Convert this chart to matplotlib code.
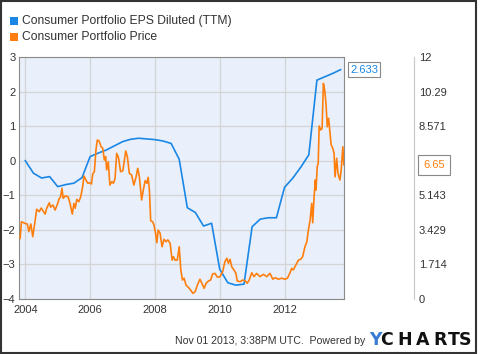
import matplotlib
matplotlib.use('Agg')
import matplotlib.pyplot as plt
import matplotlib.transforms as mtrans
from matplotlib.patches import Rectangle

plt.rcParams['font.family'] = ['Liberation Sans', 'DejaVu Sans']

# EPS diluted (TTM), quarterly, decimal years
eps_years = [2004.0, 2004.25, 2004.5, 2004.75, 2005.0, 2005.25, 2005.5, 2005.75,
             2006.0, 2006.25, 2006.5, 2006.75, 2007.0, 2007.25, 2007.5, 2007.75,
             2008.0, 2008.25, 2008.5, 2008.75, 2009.0, 2009.25, 2009.5, 2009.75,
             2010.0, 2010.25, 2010.5, 2010.75, 2011.0, 2011.25, 2011.5, 2011.75,
             2012.0, 2012.25, 2012.5, 2012.75, 2013.0, 2013.25, 2013.5, 2013.73]
eps_vals = [0.0, -0.36, -0.50, -0.46, -0.75, -0.69, -0.65, -0.49,
            0.12, 0.22, 0.31, 0.43, 0.55, 0.62, 0.65, 0.63,
            0.61, 0.57, 0.50, 0.04, -1.36, -1.50, -1.89, -1.81,
            -3.14, -3.53, -3.60, -3.57, -1.91, -1.69, -1.65, -1.65,
            -0.77, -0.51, -0.19, 0.17, 2.33, 2.43, 2.53, 2.633]

# share price
price_years = [2003.84, 2003.88, 2003.99, 2004.06, 2004.11, 2004.17, 2004.23, 2004.29, 2004.35, 2004.43,
               2004.49, 2004.56, 2004.61, 2004.66, 2004.74, 2004.78, 2004.85, 2004.92, 2004.99, 2005.05,
               2005.09, 2005.13, 2005.17, 2005.23, 2005.32, 2005.38, 2005.45, 2005.50, 2005.54, 2005.59,
               2005.65, 2005.71, 2005.77, 2005.81, 2005.87, 2005.93, 2005.98, 2006.04, 2006.08, 2006.13,
               2006.18, 2006.22, 2006.27, 2006.34, 2006.39, 2006.44, 2006.48, 2006.51, 2006.56, 2006.61,
               2006.67, 2006.72, 2006.77, 2006.82, 2006.88, 2006.94, 2007.01, 2007.05, 2007.10, 2007.15,
               2007.21, 2007.28, 2007.35, 2007.42, 2007.47, 2007.52, 2007.59, 2007.64, 2007.70, 2007.75,
               2007.79, 2007.83, 2007.87, 2007.93, 2007.97, 2008.01, 2008.06, 2008.10, 2008.16, 2008.22,
               2008.28, 2008.34, 2008.40, 2008.47, 2008.53, 2008.57, 2008.62, 2008.69, 2008.75, 2008.80,
               2008.85, 2008.90, 2008.96, 2009.03, 2009.10, 2009.17, 2009.24, 2009.31, 2009.39, 2009.45,
               2009.52, 2009.58, 2009.65, 2009.72, 2009.78, 2009.85, 2009.93, 2010.01, 2010.09, 2010.16,
               2010.22, 2010.27, 2010.32, 2010.37, 2010.44, 2010.50, 2010.54, 2010.63, 2010.71, 2010.78,
               2010.85, 2010.91, 2010.99, 2011.06, 2011.14, 2011.24, 2011.35, 2011.45, 2011.55, 2011.64,
               2011.71, 2011.81, 2011.91, 2012.02, 2012.09, 2012.17, 2012.22, 2012.27, 2012.35, 2012.43,
               2012.50, 2012.56, 2012.63, 2012.69, 2012.73, 2012.79, 2012.84, 2012.87, 2012.91, 2012.95,
               2012.97, 2013.01, 2013.04, 2013.07, 2013.12, 2013.16, 2013.20, 2013.24, 2013.28, 2013.32,
               2013.36, 2013.40, 2013.44, 2013.49, 2013.53, 2013.56, 2013.61, 2013.65, 2013.71, 2013.75,
               2013.80, 2013.835]
price_vals = [3.01, 3.83, 3.75, 3.72, 3.34, 3.72, 3.09, 3.75, 4.45, 4.33,
              4.51, 4.33, 4.21, 4.50, 4.77, 4.55, 4.66, 4.41, 4.70, 4.99,
              5.07, 5.49, 4.99, 5.11, 5.07, 4.74, 4.21, 4.74, 4.50, 4.94,
              4.82, 5.07, 5.57, 6.10, 5.90, 5.74, 5.77, 5.70, 6.20, 6.31,
              7.39, 7.88, 7.85, 7.55, 7.47, 6.89, 7.06, 6.40, 6.81, 5.65,
              5.82, 5.74, 5.98, 7.22, 6.98, 6.31, 6.36, 6.81, 7.34, 7.06,
              6.23, 6.15, 5.65, 6.06, 6.48, 6.06, 4.91, 5.40, 5.87, 5.74,
              6.03, 5.40, 3.88, 3.83, 3.67, 3.34, 2.79, 3.42, 3.26, 2.59,
              2.96, 2.84, 2.93, 2.76, 1.93, 2.10, 1.93, 1.93, 2.59, 1.44,
              0.94, 1.03, 0.69, 0.58, 0.45, 0.28, 0.36, 0.69, 0.98, 0.78,
              0.53, 0.78, 0.89, 0.94, 1.24, 1.27, 1.08, 1.11, 1.35, 1.85,
              2.02, 1.77, 1.97, 1.60, 1.44, 1.27, 0.89, 0.86, 0.94, 0.91,
              0.78, 0.94, 1.30, 1.11, 1.27, 1.11, 1.22, 1.11, 1.27, 0.98,
              1.06, 0.98, 1.03, 0.98, 1.03, 1.30, 1.52, 1.44, 1.69, 1.93,
              1.97, 2.10, 2.59, 2.84, 3.34, 3.92, 4.74, 3.78, 4.99, 5.90,
              5.40, 6.56, 6.73, 8.58, 8.38, 8.46, 10.69, 10.36, 9.70, 8.54,
              8.96, 8.29, 7.64, 7.47, 7.22, 6.06, 6.98, 6.23, 5.90, 6.40,
              7.55, 6.65]

eps_ticks = [-4, -3, -2, -1, 0, 1, 2, 3]
price_ticks = [0, 12 / 7, 24 / 7, 36 / 7, 48 / 7, 60 / 7, 72 / 7, 12]
price_labels = ['0', '1.714', '3.429', '5.143', '6.857', '8.571', '10.29', '12']
year_ticks = [2004, 2006, 2008, 2010, 2012]

blue = '#1a87e6'
orange = '#ff7f0e'
txt = '#333333'
px = 72 / 100  # points per pixel

fig = plt.figure(figsize=(4.8, 3.54), dpi=100)
ax = fig.add_axes([0.0406, 0.1554, 0.676, 0.6836])
ax.set_facecolor('#e9f0fb')
ax.plot(eps_years, eps_vals, color=blue, lw=1.2, zorder=3)
ax.set_xlim(2003.82, 2013.835)
ax.set_ylim(-4, 3)
ax.set_yticks(eps_ticks)
ax.set_xticks(year_ticks)
ax.set_xticklabels([str(y) for y in year_ticks])
ax.yaxis.tick_right()
ax.grid(True, color='#d4d4d4', lw=0.9)
ax.set_axisbelow(True)
ax.tick_params(axis='both', length=0, labelsize=8, colors=txt)
ax.tick_params(axis='y', pad=3)
ax.tick_params(axis='x', pad=4)
for s in ax.spines.values():
    s.set_color('#8a8a8a')

ax2 = ax.twinx()
ax2.plot(price_years, price_vals, color=orange, lw=1.2, zorder=3)
ax2.set_ylim(0, 12)
ax2.set_yticks(price_ticks)
ax2.set_yticklabels(price_labels)
ax2.spines['right'].set_position(('outward', 70 * px))
ax2.spines['right'].set_color('#c8c8c8')
for k in ['top', 'bottom', 'left']:
    ax2.spines[k].set_visible(False)
ax2.tick_params(axis='y', length=0, labelsize=8, colors=txt, pad=5 * px)

# last value boxes, drawn at figure level so they sit above the tick labels
tr1 = mtrans.offset_copy(mtrans.blended_transform_factory(ax.transAxes, ax.transData),
                         fig=fig, x=6 * px, y=0, units='points')
fig.text(1.0, eps_vals[-1], '2.633', transform=tr1, va='center', ha='left',
         fontsize=8, color=blue, zorder=10,
         bbox=dict(boxstyle='square,pad=0.22', fc='white', ec='#888888', lw=0.8))
tr2 = mtrans.offset_copy(mtrans.blended_transform_factory(ax2.transAxes, ax2.transData),
                         fig=fig, x=79 * px, y=0, units='points')
fig.text(1.0, price_vals[-1], '6.65', transform=tr2, va='center', ha='left',
         fontsize=8, color=orange, zorder=10,
         bbox=dict(boxstyle='square,pad=0.45', fc='white', ec='#888888', lw=0.8))

# legend
fig.patches.append(Rectangle((10 / 480, 1 - 25 / 354), 8 / 480, 8 / 354,
                             transform=fig.transFigure, fc=blue, ec='none'))
fig.patches.append(Rectangle((10 / 480, 1 - 41 / 354), 8 / 480, 8 / 354,
                             transform=fig.transFigure, fc=orange, ec='none'))
fig.text(22 / 480, 1 - 21 / 354, 'Consumer Portfolio EPS Diluted (TTM)', fontsize=8.7,
         color=txt, va='center', ha='left')
fig.text(22 / 480, 1 - 37 / 354, 'Consumer Portfolio Price', fontsize=8.7,
         color=txt, va='center', ha='left')

# footer
fig.text(365 / 480, 1 - 341 / 354, 'Nov 01 2013, 3:38PM UTC.  Powered by', fontsize=7.6,
         color=txt, va='center', ha='right')
logo_x = [375, 386.5, 405, 422.5, 440, 454, 465]
for ch, lx in zip('YCHARTS', logo_x):
    fig.text(lx / 480, 1 - 340 / 354, ch, fontsize=12.5, fontweight='bold', family='DejaVu Sans',
             color='#3a7bd5' if ch == 'Y' else '#111111', va='center', ha='center')

# outer frame
fig.patches.append(Rectangle((0.5 / 480, 1.5 / 354), 475 / 480, 351.5 / 354,
                             transform=fig.transFigure, fc='none', ec='#333333', lw=1.5))

fig.savefig('out.png', dpi=100)
